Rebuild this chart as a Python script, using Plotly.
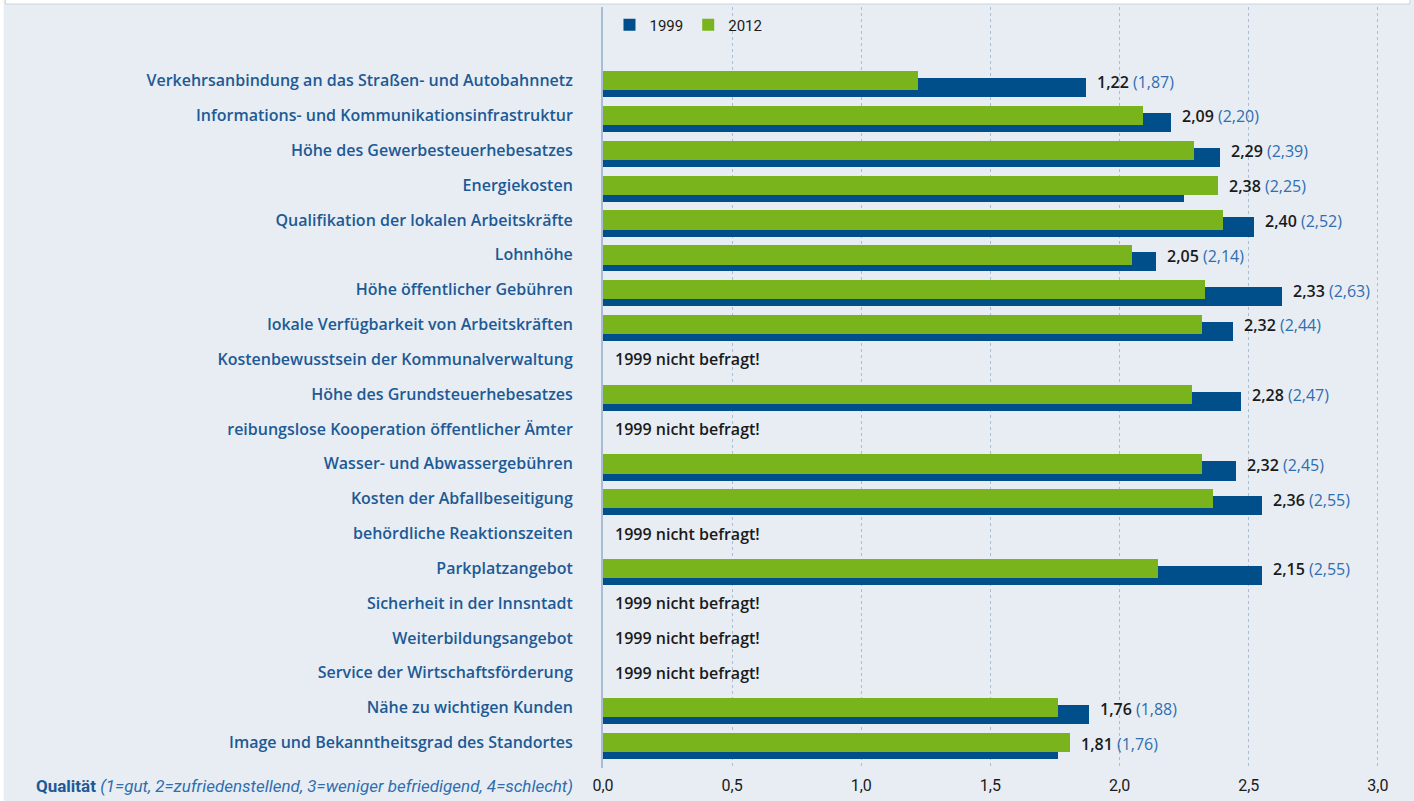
import plotly.graph_objects as go

# ---------------------------------------------------------------------------
# data (values as printed; None = "1999 nicht befragt!")
# ---------------------------------------------------------------------------
kategorien = [
    "Verkehrsanbindung an das Straßen- und Autobahnnetz",
    "Informations- und Kommunikationsinfrastruktur",
    "Höhe des Gewerbesteuerhebesatzes",
    "Energiekosten",
    "Qualifikation der lokalen Arbeitskräfte",
    "Lohnhöhe",
    "Höhe öffentlicher Gebühren",
    "lokale Verfügbarkeit von Arbeitskräften",
    "Kostenbewusstsein der Kommunalverwaltung",
    "Höhe des Grundsteuerhebesatzes",
    "reibungslose Kooperation öffentlicher Ämter",
    "Wasser- und Abwassergebühren",
    "Kosten der Abfallbeseitigung",
    "behördliche Reaktionszeiten",
    "Parkplatzangebot",
    "Sicherheit in der Innsntadt",
    "Weiterbildungsangebot",
    "Service der Wirtschaftsförderung",
    "Nähe zu wichtigen Kunden",
    "Image und Bekanntheitsgrad des Standortes",
]
werte_2012 = [1.22, 2.09, 2.29, 2.38, 2.40, 2.05, 2.33, 2.32, None, 2.28,
              None, 2.32, 2.36, None, 2.15, None, None, None, 1.76, 1.81]
werte_1999 = [1.87, 2.20, 2.39, 2.25, 2.52, 2.14, 2.63, 2.44, None, 2.47,
              None, 2.45, 2.55, None, 2.55, None, None, None, 1.88, 1.76]
x_ticks = [0.0, 0.5, 1.0, 1.5, 2.0, 2.5, 3.0]

_BLUE = "#004f8b"
_GREEN = "#79b41d"
_BG = "#e8edf4"
_LABEL = "#1d5a95"
_LIGHT = "#2f6eaf"
_GRID = "#a7bdd8"
_FONT = "Open Sans"
_NARROW = "Liberation Sans Narrow, Arial Narrow, Roboto, sans-serif"

pos = list(range(len(kategorien)))


def fmt(v):
    return f"{v:.2f}".replace(".", ",")


fig = go.Figure()
fig.add_trace(go.Bar(
    x=werte_1999, y=pos, orientation="h", name="1999",
    marker=dict(color=_BLUE, line_width=0),
    width=0.55, offset=-0.07,
))
fig.add_trace(go.Bar(
    x=werte_2012, y=pos, orientation="h", name="2012",
    marker=dict(color=_GREEN, line_width=0),
    width=0.55, offset=-0.27,
))

# value labels / "nicht befragt"
for p, a, b in zip(pos, werte_2012, werte_1999):
    if a is None:
        fig.add_annotation(
            x=0, y=p, xref="x", yref="y", xanchor="left", xshift=10,
            text="1999 nicht befragt!", showarrow=False,
            font=dict(family=_FONT, size=16, color="#1a1a1a", weight=600),
        )
    else:
        fig.add_annotation(
            x=max(a, b), y=p, xref="x", yref="y", xanchor="left", xshift=9, yshift=-1,
            text=f"{fmt(a)} <span style='color:{_LIGHT};font-weight:400'>({fmt(b)})</span>",
            showarrow=False,
            font=dict(family=_FONT, size=16, color="#1a1a1a", weight=600),
        )

# axis caption bottom left
fig.add_annotation(
    x=0, y=0, xref="paper", yref="paper", xanchor="right", yanchor="middle",
    xshift=-28, yshift=-18, showarrow=False,
    text=f"<b>Qualität</b> <i><span style='color:{_LIGHT}'>(1=gut, 2=zufriedenstellend, "
         f"3=weniger befriedigend, 4=schlecht)</span></i>",
    font=dict(family=_NARROW, size=17, color=_LABEL),
)

# white frame remnants (top box + left strip)
fig.add_shape(type="rect", xref="paper", yref="paper", x0=-0.737, x1=0.995,
              y0=1.0039, y1=1.02, fillcolor="white", line=dict(color="#c9d2dd", width=1),
              layer="above")
fig.add_shape(type="rect", xref="paper", yref="paper", x0=-0.75, x1=-0.739,
              y0=-0.05, y1=1.02, fillcolor="white", line_width=0, layer="above")

fig.update_layout(
    width=1414, height=801,
    paper_bgcolor=_BG, plot_bgcolor=_BG,
    margin=dict(l=603, r=0, t=7, b=33, autoexpand=False),
    barmode="overlay",
    separators=",.",
    bargap=0,
    font=dict(family=_FONT, size=15, color="#1a1a1a"),
    legend=dict(
        orientation="h", x=0.008, y=0.998, xanchor="left", yanchor="top",
        bgcolor="rgba(0,0,0,0)", traceorder="normal",
        font=dict(family=_NARROW, size=15, color="#1a1a1a"),
        itemwidth=30,
    ),
    xaxis=dict(
        range=[0, 3.14], tickvals=x_ticks, tickformat=".1f",
        showgrid=True, gridcolor=_GRID, griddash="dot", gridwidth=1,
        zeroline=False, showline=False, ticks="",
        ticklabelstandoff=6, automargin=False,
        tickfont=dict(family=_NARROW, size=16, color="#1a1a1a"),
    ),
    yaxis=dict(
        range=[19.73, -2.11], tickvals=pos, ticktext=kategorien,
        showgrid=False, zeroline=False,
        showline=True, linecolor="#a9bcd6", linewidth=2,
        ticks="", ticklabelstandoff=25, automargin=False,
        tickfont=dict(family=_FONT, size=16, color=_LABEL, weight=600),
    ),
)

fig.write_html("out.html", config={"displayModeBar": False},
               post_script="document.body.style.margin='0';")
